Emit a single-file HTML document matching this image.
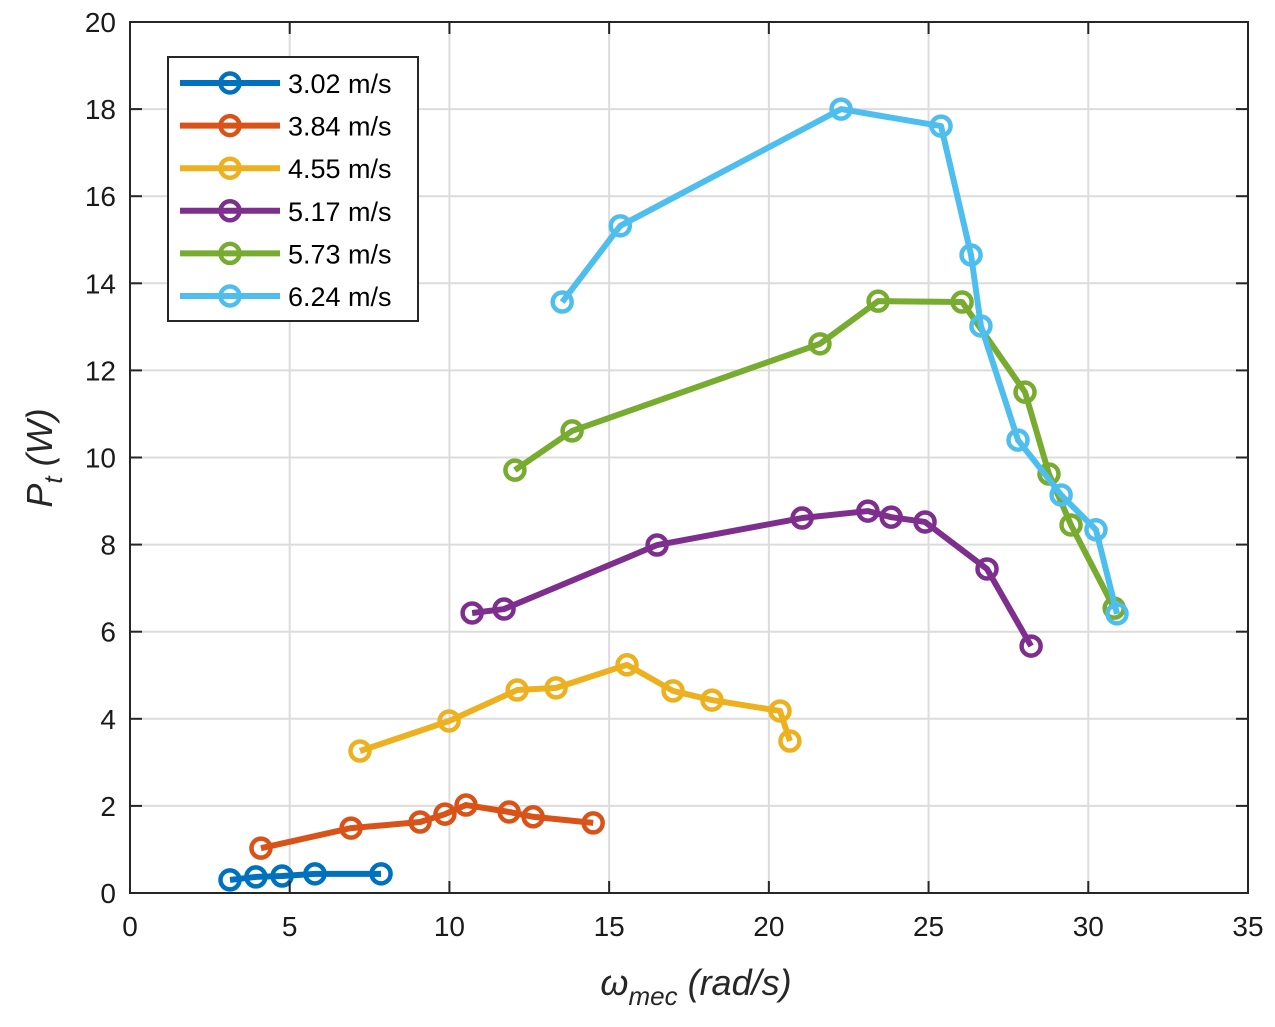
<!DOCTYPE html>
<html><head><meta charset="utf-8"><style>
body{margin:0;background:#fff;}
svg text{font-family:"Liberation Sans",Arial,sans-serif;}
</style></head><body>
<svg id="chart" width="1275" height="1022" xmlns="http://www.w3.org/2000/svg">
<g id="grid"></g>
<g id="series"></g>
<rect x="130" y="22" width="1118" height="871" fill="none" stroke="#262626" stroke-width="2"/>
<g id="ticks"></g>
<text x="0" y="0" font-size="36" font-style="italic" fill="#262626" text-anchor="middle" transform="translate(52,458) rotate(-90)">P<tspan font-size="26" dy="10">t</tspan><tspan dy="-10"> (W)</tspan></text>
<text x="696" y="995" font-size="36" font-style="italic" fill="#262626" text-anchor="middle">ω<tspan font-size="26" dy="10">mec</tspan><tspan dy="-10"> (rad/s)</tspan></text>
<g id="legend">
<rect x="168" y="57" width="250" height="264" fill="#fff" stroke="#262626" stroke-width="2"/>
</g>
</svg>
<script>
const xTicks=[0,5,10,15,20,25,30,35];
const yTicks=[0,2,4,6,8,10,12,14,16,18,20];
const seriesLabels=["3.02 m/s","3.84 m/s","4.55 m/s","5.17 m/s","5.73 m/s","6.24 m/s"];
const colors=["#0072BD","#D95319","#EDB120","#7E2F8E","#77AC30","#4DBEEE"];
const x302=[3.13,3.94,4.76,5.79,7.86];
const y302=[0.3,0.37,0.39,0.44,0.44];
const x384=[4.10,6.92,9.08,9.86,10.52,11.87,12.62,14.50];
const y384=[1.03,1.49,1.63,1.81,2.02,1.86,1.75,1.61];
const x455=[7.20,9.99,12.12,13.34,15.56,17.00,18.22,20.35,20.66];
const y455=[3.26,3.95,4.66,4.71,5.24,4.64,4.43,4.18,3.49];
const x517=[10.71,11.71,16.50,21.04,23.10,23.83,24.89,26.83,28.21];
const y517=[6.43,6.52,7.99,8.61,8.77,8.63,8.52,7.44,5.67];
const x573=[12.05,13.84,21.60,23.42,26.05,28.02,28.77,29.46,30.81];
const y573=[9.71,10.61,12.61,13.59,13.57,11.50,9.62,8.45,6.54];
const x624=[13.53,15.35,22.26,25.39,26.33,26.64,27.80,29.15,30.24,30.90];
const y624=[13.57,15.32,18.0,17.61,14.65,13.02,10.40,9.14,8.34,6.41];
const xs=[x302,x384,x455,x517,x573,x624];
const ys=[y302,y384,y455,y517,y573,y624];

const NS="http://www.w3.org/2000/svg";
const X0=130,X1=1248,Y0=893,Y1=22;
const sx=v=>X0+(v-0)/(35-0)*(X1-X0);
const sy=v=>Y0-(v-0)/(20-0)*(Y0-Y1);
function mk(t,a,p){const e=document.createElementNS(NS,t);for(const k in a)e.setAttribute(k,a[k]);p.appendChild(e);return e;}
const grid=document.getElementById('grid'),ticks=document.getElementById('ticks'),ser=document.getElementById('series'),leg=document.getElementById('legend');
xTicks.forEach(v=>{
  const x=sx(v);
  if(v>0&&v<35){const g=mk('line',{x1:x,x2:x,y1:Y1,y2:Y0,stroke:'#dcdcdc','stroke-width':2},grid);
  
  }
  mk('line',{x1:x,x2:x,y1:Y0,y2:Y0-12,stroke:'#262626','stroke-width':2},ticks);
  mk('line',{x1:x,x2:x,y1:Y1,y2:Y1+12,stroke:'#262626','stroke-width':2},ticks);
  const t=mk('text',{x:x,y:Y0+43,'font-size':28,'text-anchor':'middle',fill:'#1a1a1a'},ticks);t.textContent=v;
  
  
});
yTicks.forEach(v=>{
  const y=sy(v);
  if(v>0&&v<20){const g=mk('line',{x1:X0,x2:X1,y1:y,y2:y,stroke:'#dcdcdc','stroke-width':2},grid);
  
  }
  mk('line',{x1:X0,x2:X0+12,y1:y,y2:y,stroke:'#262626','stroke-width':2},ticks);
  mk('line',{x1:X1,x2:X1-12,y1:y,y2:y,stroke:'#262626','stroke-width':2},ticks);
  const t=mk('text',{x:X0-14,y:y+10,'font-size':28,'text-anchor':'end',fill:'#1a1a1a'},ticks);t.textContent=v;
  
  
});
xs.forEach((xa,i)=>{
  const g=mk('g',{},ser);
  
  
  mk('polyline',{points:xa.map((v,j)=>sx(v)+','+sy(ys[i][j])).join(' '),fill:'none',stroke:colors[i],'stroke-width':6,'stroke-linejoin':'round'},g);
  xa.forEach((v,j)=>{
    const c=mk('circle',{cx:sx(v),cy:sy(ys[i][j]),r:9.5,fill:'none',stroke:colors[i],'stroke-width':4.5},g);
    
    
  });
  const y=83+i*42.6;
  const le=mk('g',{},leg);
  
  
  mk('line',{x1:180,x2:280,y1:y,y2:y,stroke:colors[i],'stroke-width':6},le);
  mk('circle',{cx:230,cy:y,r:9.5,fill:'none',stroke:colors[i],'stroke-width':4.5},le);
  const t=mk('text',{x:288,y:y+10,'font-size':27,fill:'#000'},le);t.textContent=seriesLabels[i];
});
</script>
</body></html>
